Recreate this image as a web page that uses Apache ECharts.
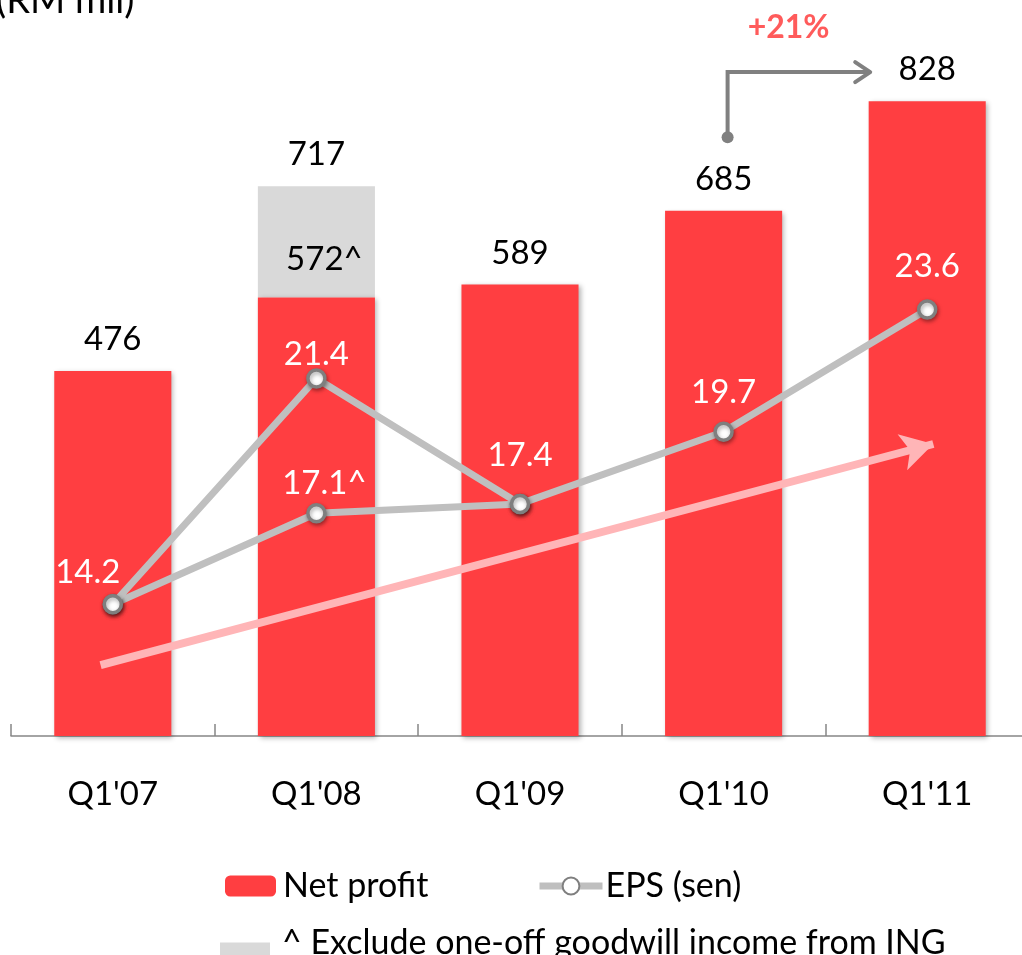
<!DOCTYPE html>
<html>
<head>
<meta charset="utf-8">
<style>
  html, body { margin: 0; padding: 0; background: #fff; }
  #chart { width: 1022px; height: 955px; }
</style>
<script src="https://cdn.jsdelivr.net/npm/echarts@6/dist/echarts.min.js"></script>
</head>
<body>
<div id="chart"></div>
<script>
// Net profit (RM mil) and EPS (sen), Q1 of each year
const categories = ["Q1'07", "Q1'08", "Q1'09", "Q1'10", "Q1'11"];
const netProfit = [476, 572, 589, 685, 828];        // Q1'08 excl. goodwill
const goodwill = [null, 145, null, null, null];     // one-off ING goodwill (717 - 572)
const eps = [14.2, 21.4, 17.4, 19.7, 23.6];
const epsExcl = [14.2, 17.1, 17.4, null, null];     // Q1'08 EPS excl. goodwill
const trendX = [-0.06, 4.03];                       // trend arrow, in category units
const trendEps = [12.26, 19.31];                    // trend arrow, on EPS scale
const growthText = '+21%';
const bracketLevels = [781, 866];                   // growth bracket: dot level, top level (RM mil)

const FONT = 'Lato, "Open Sans", sans-serif';
const RED = '#FF3E41';
const GREY_BAR = '#D9D9D9';
const GREY_LINE = '#BFBFBF';
const GREY_DARK = '#7F7F7F';

// label nudges so text sits where the original slide put it
const epsLabelOffset = [[-25, 0], [0, 8], [0, -17], [0, -8], [0, -11]];
const epsExclLabelOffset = [null, [8, 2], null, null, null];

const chart = echarts.init(document.getElementById('chart'));

const barData = netProfit.map((v, i) => goodwill[i] != null
  ? { value: v, label: { formatter: '{c}^', offset: [8, -7] } }
  : v);
const goodwillData = goodwill.map((v, i) => v == null ? null : {
  value: v,
  label: { show: true, formatter: String(netProfit[i] + v) }
});
const epsData = eps.map((v, i) => ({ value: v, label: { offset: epsLabelOffset[i] } }));
const epsExclData = epsExcl.map((v, i) => {
  if (v == null) return null;
  if (!epsExclLabelOffset[i]) return { value: v, label: { show: false } };
  return { value: v, label: { show: true, formatter: '{c}^', offset: epsExclLabelOffset[i] } };
});

const lineSymbol = {
  symbol: 'circle',
  symbolSize: 17,
  showAllSymbol: true,
  itemStyle: {
    color: '#fff', borderColor: GREY_DARK, borderWidth: 3.5,
    shadowBlur: 4, shadowColor: 'rgba(0,0,0,0.35)', shadowOffsetX: 1, shadowOffsetY: 2
  },
  lineStyle: { color: GREY_LINE, width: 7 }
};

const legendText = { fontSize: 34, lineHeight: 34, color: '#000', fontFamily: FONT };

chart.setOption({
  animation: false,
  textStyle: { fontFamily: FONT },
  grid: { left: 11, top: 46, width: 1018, height: 690, containLabel: false, outerBoundsMode: 'none' },
  legend: [
    {
      data: ['Net profit'],
      left: 220, top: 864,
      itemWidth: 51, itemHeight: 21,
      textStyle: Object.assign({ padding: [0, 0, 0, 2] }, legendText)
    },
    {
      data: ['EPS (sen)'],
      left: 531, top: 864,
      itemWidth: 63, itemHeight: 21,
      lineStyle: { width: 7, color: GREY_LINE },
      textStyle: Object.assign({ padding: [0, 0, 0, -2] }, legendText)
    },
    {
      // swatch sits lower than its text on the slide, hence the padded icon path
      data: [{ name: '^ Exclude one-off goodwill income from ING', icon: 'path://M0,0L50,0M0,19h50v21h-50z' }],
      left: 215, top: 918,
      itemWidth: 50, itemHeight: 41,
      symbolKeepAspect: false,
      textStyle: Object.assign({ padding: [0, 0, 0, 7] }, legendText)
    }
  ],
  xAxis: [
    {
      type: 'category',
      data: categories,
      axisLine: { lineStyle: { color: '#878787', width: 1.5 } },
      axisTick: { show: true, inside: true, length: 12, lineStyle: { color: '#878787', width: 1.5 } },
      axisLabel: { fontSize: 33, color: '#000', margin: 42, fontFamily: FONT }
    },
    { type: 'value', min: -0.5, max: 4.5, show: false, splitLine: { show: false } }
  ],
  yAxis: [
    { type: 'value', min: 0, max: 900, show: false, splitLine: { show: false } },
    { type: 'value', min: 10, max: 32, show: false, splitLine: { show: false } }
  ],
  series: [
    {
      name: 'Net profit',
      type: 'bar',
      stack: 'np',
      barWidth: '57.5%',
      z: 2,
      data: barData,
      itemStyle: {
        color: RED,
        shadowBlur: 5, shadowColor: 'rgba(0,0,0,0.3)', shadowOffsetX: 2, shadowOffsetY: 2
      },
      label: { show: true, position: 'top', distance: 15, fontSize: 33, color: '#000', fontFamily: FONT }
    },
    {
      name: '^ Exclude one-off goodwill income from ING',
      type: 'bar',
      stack: 'np',
      z: 1,
      data: goodwillData,
      itemStyle: { color: GREY_BAR },
      label: { show: false, position: 'top', distance: 15, fontSize: 33, color: '#000', fontFamily: FONT }
    },
    {
      name: 'trend',
      type: 'line',
      xAxisIndex: 1,
      yAxisIndex: 1,
      z: 2,
      silent: true,
      symbol: 'none',
      lineStyle: { opacity: 0 },
      data: [[trendX[0], trendEps[0]], [trendX[1], trendEps[1]]],
      markLine: {
        silent: true,
        symbol: ['none', 'arrow'],
        symbolSize: [28, 32],
        label: { show: false },
        lineStyle: { color: '#FFB5B7', width: 8, type: 'solid' },
        data: [[
          { coord: [trendX[0], trendEps[0]] },
          { coord: [trendX[1], trendEps[1]] }
        ]]
      }
    },
    Object.assign({
      name: 'EPS excl',
      type: 'line',
      yAxisIndex: 1,
      z: 3,
      data: epsExclData,
      label: { show: false, position: 'top', distance: 5, fontSize: 33, color: '#fff', fontFamily: FONT }
    }, lineSymbol),
    Object.assign({
      name: 'EPS (sen)',
      type: 'line',
      yAxisIndex: 1,
      z: 4,
      data: epsData,
      label: { show: true, position: 'top', distance: 5, fontSize: 33, color: '#fff', fontFamily: FONT }
    }, lineSymbol)
  ]
});

// Growth bracket arrow, "+21%" and axis unit, placed from the axes
function drawAnnotations(){
  const p10 = chart.convertToPixel({ xAxisIndex: 0, yAxisIndex: 0 }, [categories[3], bracketLevels[0]]);
  const top = chart.convertToPixel({ xAxisIndex: 0, yAxisIndex: 0 }, [categories[3], bracketLevels[1]]);
  const p11 = chart.convertToPixel({ xAxisIndex: 0, yAxisIndex: 0 }, [categories[4], bracketLevels[1]]);
  const x0 = p10[0] + 4, y0 = p10[1], y1 = top[1], x1 = p11[0] - 57;
  chart.setOption({
    graphic: [
      {
        type: 'text', left: -4, top: -18,
        style: { text: '(RM mil)', font: '38px ' + FONT, fill: '#000' }
      },
      {
        type: 'polyline',
        shape: { points: [[x0, y0], [x0, y1], [x1, y1]] },
        style: { stroke: '#808080', lineWidth: 4, fill: null }
      },
      {
        type: 'polyline',
        shape: { points: [[x1 - 15, y1 - 10], [x1, y1], [x1 - 15, y1 + 10]] },
        style: { stroke: '#808080', lineWidth: 4, fill: null, lineCap: 'round', lineJoin: 'round' }
      },
      {
        type: 'circle',
        shape: { cx: x0, cy: y0, r: 6 },
        style: { fill: '#808080' }
      },
      {
        type: 'text',
        x: x0 + 61, y: 28,
        style: {
          text: growthText, font: 'bold 32px ' + FONT, fill: '#FF5B5B',
          align: 'center', verticalAlign: 'middle'
        }
      }
    ]
  });
}
drawAnnotations();
</script>
</body>
</html>
